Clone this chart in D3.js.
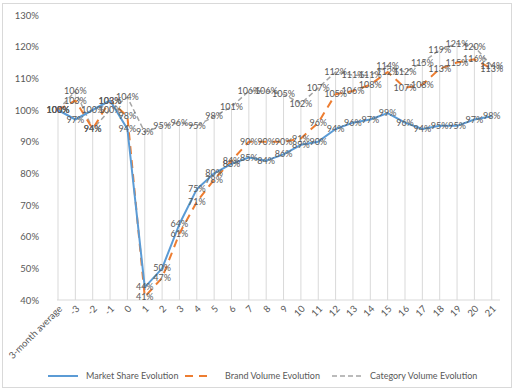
<!DOCTYPE html>
<html>
<head>
<meta charset="utf-8">
<script src="https://cdn.jsdelivr.net/npm/d3@7"></script>
<style>
  body { margin: 0; background: #fff; }
  text { font-family: Lato, "Open Sans", sans-serif; }
</style>
</head>
<body>
<svg id="chart" width="516" height="391"></svg>
<script>
const categories = ["3-month average", "-3", "-2", "-1", "0", "1", "2", "3", "4", "5", "6", "7",
                    "8", "9", "10", "11", "12", "13", "14", "15", "16", "17", "18", "19", "20", "21"];
const marketShare = [1.00, 0.97, 1.00, 1.03, 0.94, 0.44, 0.50, 0.64, 0.75, 0.80, 0.83, 0.85, 0.84,
                     0.86, 0.89, 0.90, 0.94, 0.96, 0.97, 0.99, 0.96, 0.94, 0.95, 0.95, 0.97, 0.98];
const brandVolume = [1.00, 1.03, 0.94, 1.03, 0.98, 0.41, 0.47, 0.61, 0.71, 0.78, 0.84, 0.90, 0.90,
                     0.90, 0.91, 0.96, 1.05, 1.06, 1.08, 1.12, 1.07, 1.08, 1.13, 1.15, 1.16, 1.13];
const categoryVolume = [1.00, 1.06, 0.94, 1.00, 1.04, 0.93, 0.95, 0.96, 0.95, 0.98, 1.01, 1.06, 1.06,
                        1.05, 1.02, 1.07, 1.12, 1.11, 1.11, 1.14, 1.12, 1.15, 1.19, 1.21, 1.20, 1.14];
const yTicks = [0.4, 0.5, 0.6, 0.7, 0.8, 0.9, 1.0, 1.1, 1.2, 1.3];

const series = [
    {name: "Market Share Evolution", values: marketShare, color: "#5b9bd5", width: 2, dash: null},
    {name: "Brand Volume Evolution", values: brandVolume, color: "#ed7d31", width: 2, dash: "8,6"},
    {name: "Category Volume Evolution", values: categoryVolume, color: "#a5a5a5", width: 1.5, dash: "5,3"}
];

const svg = d3.select("#chart");
const X0 = 58, X1 = 491.75, Y0 = 300, Y1 = 15;

// chart border
svg.append("rect")
   .attr("x", 2.5).attr("y", 3.5)
   .attr("width", 509).attr("height", 384)
   .attr("fill", "none")
   .attr("stroke", "#d9d9d9");

let xScale = d3.scalePoint()
               .domain(categories)
               .range([X0, X1]);

let yScale = d3.scaleLinear()
               .domain([0.4, 1.3])
               .range([Y0, Y1]);

// drop lines from the highest point of each category
svg.append("g")
   .selectAll("line")
   .data(categories)
   .enter()
   .append("line")
   .attr("x1", d => xScale(d))
   .attr("x2", d => xScale(d))
   .attr("y1", (d, i) => yScale(d3.max(series, s => s.values[i])))
   .attr("y2", Y0)
   .attr("stroke", "#d9d9d9")
   .attr("stroke-width", 1);

// category axis line
svg.append("line")
   .attr("x1", X0 - 1).attr("x2", 500)
   .attr("y1", Y0).attr("y2", Y0)
   .attr("stroke", "#d9d9d9");

const yAxis = d3.axisLeft(yScale)
                .tickValues(yTicks)
                .tickFormat(d3.format(".0%"))
                .tickSize(0)
                .tickPadding(0);

const gy = svg.append("g")
              .attr("transform", "translate(39, 0)")
              .call(yAxis);
gy.select(".domain").remove();
gy.selectAll("text")
  .attr("fill", "#595959")
  .style("font-size", "9.5px");

const xAxis = d3.axisBottom(xScale)
                .tickSize(0);

const gx = svg.append("g")
              .attr("transform", `translate(0, ${Y0})`)
              .call(xAxis);
gx.select(".domain").remove();
gx.selectAll("text")
  .attr("x", 0).attr("y", 0).attr("dy", "0.35em")
  .attr("text-anchor", "end")
  .attr("transform", "translate(2, 7) rotate(-45)")
  .attr("fill", "#595959")
  .style("font-size", "9.5px");

const line = d3.line()
               .x((d, i) => xScale(categories[i]))
               .y(d => yScale(d));

// draw gray first so blue and orange sit on top
[series[2], series[1], series[0]].forEach(s => {
    svg.append("path")
       .datum(s.values)
       .attr("d", line)
       .attr("fill", "none")
       .attr("stroke", s.color)
       .attr("stroke-width", s.width)
       .attr("stroke-dasharray", s.dash)
       .attr("stroke-linejoin", "round");
});

// data labels, centred on the points
const fmt = d3.format(".0%");
series.forEach(s => {
    svg.append("g")
       .selectAll("text")
       .data(s.values)
       .enter()
       .append("text")
       .attr("x", (d, i) => xScale(categories[i]))
       .attr("y", d => yScale(d))
       .attr("dy", "0.35em")
       .attr("text-anchor", "middle")
       .attr("fill", "#595959")
       .style("font-size", "9px")
       .text(d => fmt(d));
});

// legend
const legendX = [48, 185, 332];
const legend = svg.append("g")
                  .selectAll("g")
                  .data(series)
                  .enter()
                  .append("g")
                  .attr("transform", (d, i) => `translate(${legendX[i]}, 376)`);

legend.append("line")
      .attr("x1", 0).attr("x2", (d, i) => i === 1 ? 23 : 30)
      .attr("y1", 0).attr("y2", 0)
      .attr("stroke", d => d.color)
      .attr("stroke-width", d => d.width)
      .attr("stroke-dasharray", d => d.dash);

legend.append("text")
      .attr("x", (d, i) => i === 1 ? 40 : 38)
      .attr("y", 0)
      .attr("dy", "0.35em")
      .attr("fill", "#595959")
      .style("font-size", "9px")
      .text(d => d.name);
</script>
</body>
</html>
